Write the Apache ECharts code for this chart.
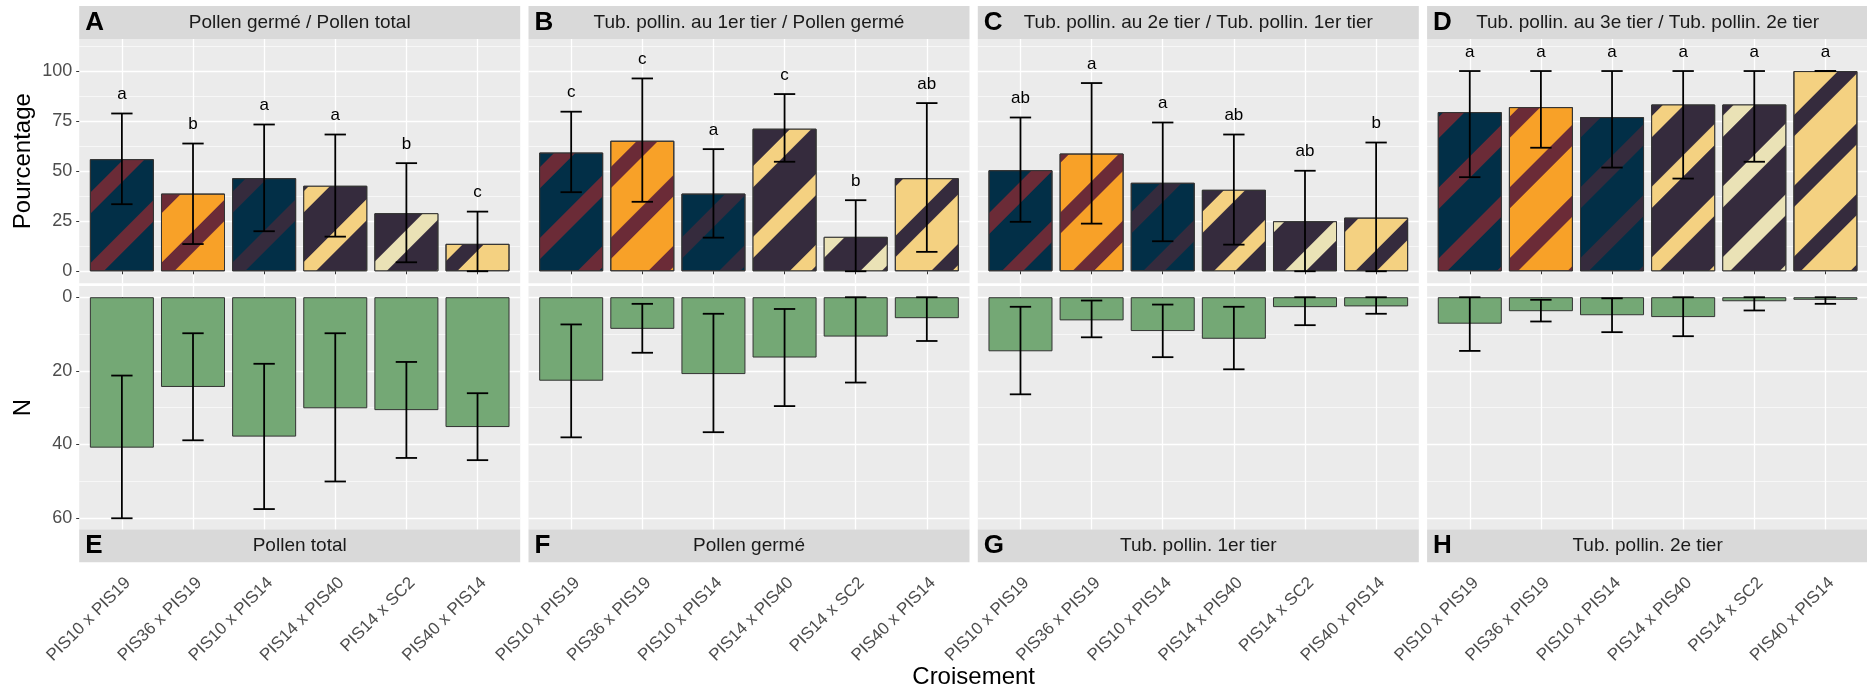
<!DOCTYPE html>
<html><head><meta charset="utf-8">
<script src="https://cdn.jsdelivr.net/npm/echarts@6/dist/echarts.min.js"></script>
<style>html,body{margin:0;padding:0;background:#fff}#c{width:1867px;height:692px}</style>
</head><body><div id="c"></div>
<script>
// ---------- data ----------
const crosses = ['PIS10 x PIS19','PIS36 x PIS19','PIS10 x PIS14','PIS14 x PIS40','PIS14 x SC2','PIS40 x PIS14'];
const topTitles = ['Pollen germé / Pollen total','Tub. pollin. au 1er tier / Pollen germé','Tub. pollin. au 2e tier / Tub. pollin. 1er tier','Tub. pollin. au 3e tier / Tub. pollin. 2e tier'];
const bottomTitles = ['Pollen total','Pollen germé','Tub. pollin. 1er tier','Tub. pollin. 2e tier'];
const topTags = ['A','B','C','D'];
const bottomTags = ['E','F','G','H'];

const pctA = [56.0, 38.8, 46.5, 42.7, 29.0, 13.7];
const pctA_low = [33.5, 13.6, 20.0, 17.3, 4.5, 0];
const pctA_high = [78.8, 63.8, 73.3, 68.3, 54.0, 29.8];
const lettersA = ['a','b','a','a','b','c'];

const pctB = [59.3, 65.2, 38.8, 71.2, 17.2, 46.5];
const pctB_low = [39.5, 34.7, 16.8, 54.7, 0, 9.7];
const pctB_high = [79.7, 96.3, 61.0, 88.5, 35.5, 84.0];
const lettersB = ['c','c','a','c','b','ab'];

const pctC = [50.5, 58.8, 44.2, 40.7, 25.0, 26.8];
const pctC_low = [24.7, 23.8, 15.0, 13.3, 0, 0];
const pctC_high = [76.8, 94.0, 74.3, 68.3, 50.2, 64.3];
const lettersC = ['ab','a','a','ab','ab','b'];

const pctD = [79.5, 82.0, 77.0, 83.3, 83.3, 100];
const pctD_low = [47.0, 61.7, 51.8, 46.3, 54.7, 100];
const pctD_high = [100, 100, 100, 100, 100, 100];
const lettersD = ['a','a','a','a','a','a'];

const nE = [40.9, 24.4, 37.9, 30.2, 30.7, 35.3];
const nE_low = [21.3, 9.8, 18.1, 9.8, 17.6, 26.1];
const nE_high = [60.1, 38.9, 57.6, 50.1, 43.7, 44.3];

const nF = [22.7, 8.6, 20.9, 16.4, 10.7, 5.7];
const nF_low = [7.4, 1.8, 4.5, 3.2, 0, 0];
const nF_high = [38.1, 15.1, 36.7, 29.6, 23.2, 11.9];

const nG = [14.7, 6.3, 9.2, 11.3, 2.7, 2.5];
const nG_low = [2.6, 0.9, 2.0, 2.6, 0, 0];
const nG_high = [26.4, 10.9, 16.3, 19.6, 7.6, 4.5];

const nH = [7.2, 3.8, 4.9, 5.4, 1.1, 0.7];
const nH_low = [0, 0.7, 0.3, 0, 0, 0];
const nH_high = [14.6, 6.6, 9.5, 10.6, 3.6, 1.8];

const pctTicks = [0, 25, 50, 75, 100];
const pctMinor = [12.5, 37.5, 62.5, 87.5, 112.5];
const nTicks = [0, 20, 40, 60];
const nMinor = [10, 30, 50];

// ---------- styles ----------
const FONT = '"Liberation Sans", Arial, sans-serif';
const parentFill = {PIS10:'#022f47', PIS36:'#f8a128', PIS14:'#352b3d', PIS40:'#f4d181'};
const parentStripe = {PIS19:'#6b2b37', PIS14:'#352b3d', PIS40:'#f4d181', SC2:'#eae2b6'};
const green = '#74a875';

const L0 = 79.2, PW = 441, GAP = 8.3;
const TOP_Y = 39, TOP_H = 244.3, BOT_Y = 286, BOT_H = 243.3, STRIP_H = 33, STRIP_TOP = 6;
const TOP_RANGE = [-6, 116], BOT_RANGE = [-3.05, 63.1];

const topMeans = [pctA, pctB, pctC, pctD];
const topLows = [pctA_low, pctB_low, pctC_low, pctD_low];
const topHighs = [pctA_high, pctB_high, pctC_high, pctD_high];
const topLetters = [lettersA, lettersB, lettersC, lettersD];
const botMeans = [nE, nF, nG, nH];
const botLows = [nE_low, nF_low, nG_low, nH_low];
const botHighs = [nE_high, nF_high, nG_high, nH_high];

const xPos = crosses.map((c, k) => k + 1);

function errRender(letters) {
  return function (params, api) {
    const x = api.value(0), lo = api.value(1), hi = api.value(2);
    const a = api.coord([x, lo]), b = api.coord([x, hi]);
    const hw = api.size([0.15, 0])[0];
    const st = {stroke: '#000', lineWidth: 1.8};
    const ch = [
      {type: 'line', shape: {x1: a[0], y1: a[1], x2: b[0], y2: b[1]}, style: st},
      {type: 'line', shape: {x1: a[0] - hw, y1: a[1], x2: a[0] + hw, y2: a[1]}, style: st},
      {type: 'line', shape: {x1: b[0] - hw, y1: b[1], x2: b[0] + hw, y2: b[1]}, style: st}
    ];
    if (letters) {
      ch.push({type: 'text', x: b[0], y: b[1] - 19,
        style: {text: letters[params.dataIndex], fill: '#000', font: '17px ' + FONT, align: 'center', verticalAlign: 'middle'}});
    }
    return {type: 'group', children: ch};
  };
}

const grid = [], xAxis = [], yAxis = [], series = [], graphic = [];
for (let row = 0; row < 2; row++) {
  for (let i = 0; i < 4; i++) {
    const g = row * 4 + i;
    const left = L0 + i * (PW + GAP);
    const isTop = row === 0;
    grid.push({left: left, top: isTop ? TOP_Y : BOT_Y, width: PW, height: isTop ? TOP_H : BOT_H,
      show: true, backgroundColor: '#ebebeb', borderWidth: 0, containLabel: false, outerBoundsMode: 'none'});
    xAxis.push({type: 'value', gridIndex: g, min: 0.4, max: 6.6, position: 'bottom',
      offset: isTop ? 0 : STRIP_H,
      axisLine: {show: false},
      axisTick: {show: true, customValues: xPos, length: 3, lineStyle: {color: '#333', width: 1}},
      axisLabel: {show: !isTop, customValues: xPos, formatter: v => crosses[Math.round(v) - 1],
        rotate: 45, align: 'right', verticalAlign: 'top', margin: 12, fontSize: 17, color: '#4d4d4d', fontFamily: FONT},
      splitLine: {show: true, lineStyle: {color: '#fff', width: 1.3}}
    });
    const range = isTop ? TOP_RANGE : BOT_RANGE;
    const major = isTop ? pctTicks : nTicks;
    const minor = isTop ? pctMinor : nMinor;
    yAxis.push({type: 'value', gridIndex: g, min: range[0], max: range[1], inverse: !isTop,
      axisLine: {show: false},
      axisTick: {show: i === 0, customValues: major, length: 3, lineStyle: {color: '#333', width: 1}},
      axisLabel: {show: i === 0, customValues: major, margin: 7, fontSize: 18, color: '#4d4d4d', fontFamily: FONT},
      splitLine: {show: true, lineStyle: {color: '#fff', width: 1.3}}
    });
    yAxis.push({type: 'value', gridIndex: g, min: range[0], max: range[1], inverse: !isTop,
      axisLine: {show: false},
      axisTick: {show: false, customValues: minor},
      axisLabel: {show: false},
      splitLine: {show: true, lineStyle: {color: '#fff', width: 0.6}}
    });
    const means = isTop ? topMeans[i] : botMeans[i];
    const lows = isTop ? topLows[i] : botLows[i];
    const highs = isTop ? topHighs[i] : botHighs[i];
    series.push({type: 'bar', xAxisIndex: g, yAxisIndex: 2 * g, barWidth: '90%', clip: true,
      itemStyle: {borderColor: '#333', borderWidth: 1},
      data: crosses.map((c, k) => {
        const parts = c.split(' x ');
        if (!isTop) return {value: [xPos[k], means[k]], itemStyle: {color: green}};
        return {value: [xPos[k], means[k]], itemStyle: {color: parentFill[parts[0]],
          decal: {symbol: 'rect', symbolSize: 1, dashArrayX: [20, 0], dashArrayY: [15, 35],
            rotation: -Math.PI / 4, color: parentStripe[parts[1]]}}};
      })
    });
    series.push({type: 'custom', xAxisIndex: g, yAxisIndex: 2 * g, z: 5,
      renderItem: errRender(isTop ? topLetters[i] : null),
      data: crosses.map((c, k) => [xPos[k], lows[k], highs[k]])
    });
    // strips
    const sy = isTop ? STRIP_TOP : BOT_Y + BOT_H;
    graphic.push({type: 'rect', shape: {x: left, y: sy, width: PW, height: STRIP_H}, style: {fill: '#d9d9d9'}, z: -1});
    graphic.push({type: 'text', x: left + 6, y: sy + STRIP_H / 2,
      style: {text: isTop ? topTags[i] : bottomTags[i], font: 'bold 26px ' + FONT, fill: '#000', verticalAlign: 'middle'}});
    graphic.push({type: 'text', x: left + PW / 2, y: sy + STRIP_H / 2,
      style: {text: isTop ? topTitles[i] : bottomTitles[i], font: '19px ' + FONT, fill: '#1a1a1a', align: 'center', verticalAlign: 'middle'}});
  }
}
graphic.push({type: 'text', x: 23.3, y: TOP_Y + TOP_H / 2, rotation: Math.PI / 2,
  style: {text: 'Pourcentage', font: '24px ' + FONT, fill: '#000', align: 'center', verticalAlign: 'middle'}});
graphic.push({type: 'text', x: 23.3, y: BOT_Y + BOT_H / 2, rotation: Math.PI / 2,
  style: {text: 'N', font: '24px ' + FONT, fill: '#000', align: 'center', verticalAlign: 'middle'}});
graphic.push({type: 'text', x: L0 + (4 * PW + 3 * GAP) / 2, y: 677,
  style: {text: 'Croisement', font: '24px ' + FONT, fill: '#000', align: 'center', verticalAlign: 'middle'}});

const chart = echarts.init(document.getElementById('c'), null, {renderer: 'canvas'});
chart.setOption({
  animation: false,
  backgroundColor: '#fff',
  textStyle: {fontFamily: FONT},
  grid, xAxis, yAxis, series, graphic
});
</script>
</body></html>
